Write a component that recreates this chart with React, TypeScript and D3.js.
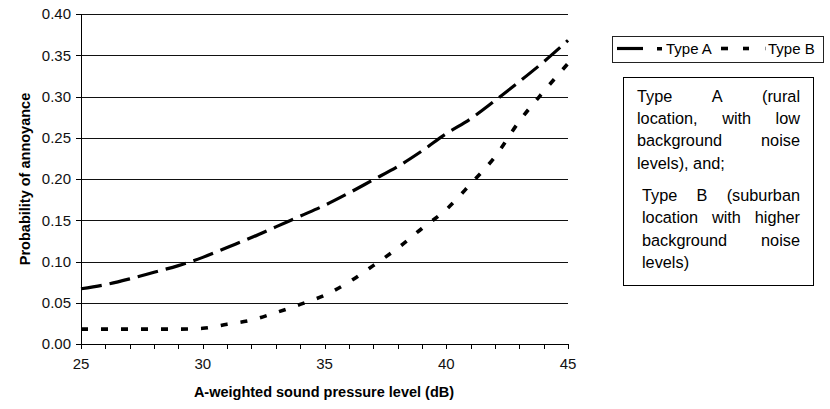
import React from 'react';
import * as d3 from 'd3';

const dB = [25, 26, 27, 28, 29, 30, 31, 32, 33, 34, 35, 36, 37, 38, 39, 40, 41, 42, 43, 44, 45];
const typeA = [0.067, 0.072, 0.079, 0.087, 0.095, 0.105, 0.117, 0.129, 0.142, 0.155, 0.168, 0.183, 0.199, 0.215, 0.234, 0.255, 0.273, 0.295, 0.318, 0.342, 0.368];
const typeB = [0.018, 0.018, 0.018, 0.018, 0.018, 0.019, 0.024, 0.029, 0.038, 0.048, 0.059, 0.075, 0.095, 0.116, 0.14, 0.163, 0.194, 0.227, 0.27, 0.306, 0.34];
const xTickLabels = [25, 30, 35, 40, 45];
const yTicks = [0, 0.05, 0.1, 0.15, 0.2, 0.25, 0.3, 0.35, 0.4];
const legendLabels = ['Type A', 'Type B'];
const noteParagraphs = [
  [['Type', 'A', '(rural'], ['location,', 'with', 'low'], ['background', 'noise'], ['levels), and;']],
  [['Type', 'B', '(suburban'], ['location', 'with', 'higher'], ['background', 'noise'], ['levels)']],
];

const FONT = "'Liberation Sans', Arial, Helvetica, sans-serif";

let ctx: CanvasRenderingContext2D | null = null;
function measure(t: string, size: number) {
  if (!ctx) ctx = document.createElement('canvas').getContext('2d');
  if (!ctx) return t.length * size * 0.5;
  ctx.font = `${size}px ${FONT}`;
  return ctx.measureText(t).width;
}

function JustifiedLine({ words, left, right, y, size, justify }: any) {
  if (!justify || words.length === 1) {
    return (
      <text x={left} y={y} fontSize={size} fontFamily={FONT} fill="#000">
        {words.join(' ')}
      </text>
    );
  }
  const widths = words.map((w: string) => measure(w, size));
  const total = widths.reduce((a: number, b: number) => a + b, 0);
  const gap = (right - left - total) / (words.length - 1);
  let x = left;
  return (
    <g>
      {words.map((w: string, i: number) => {
        const el = (
          <text key={i} x={x} y={y} fontSize={size} fontFamily={FONT} fill="#000">
            {w}
          </text>
        );
        x += widths[i] + gap;
        return el;
      })}
    </g>
  );
}

export default function App() {
  const W = 830, H = 409;
  const x = d3.scaleLinear().domain([25, 45]).range([81, 568]);
  const y = d3.scaleLinear().domain([0, 0.4]).range([344, 14]);
  const line = d3
    .line<number>()
    .x((_, i) => x(dB[i]))
    .y((d) => y(d))
    .curve(d3.curveMonotoneX);

  const noteSize = 16.3;
  const lineH = 22.3;
  const noteStarts = [101.7, 201];
  const noteLefts = [637, 642];

  return (
    <svg width={W} height={H} style={{ position: 'absolute', left: 0, top: 0 }} xmlns="http://www.w3.org/2000/svg">
      <rect x={0} y={0} width={W} height={H} fill="#fff" />
      {/* gridlines */}
      {yTicks.filter((t) => t > 0).map((t) => (
        <line key={t} x1={81} x2={568} y1={Math.round(y(t)) + 0.5} y2={Math.round(y(t)) + 0.5} stroke="#111" strokeWidth={1} />
      ))}
      {/* axes */}
      <line x1={81.5} x2={81.5} y1={14} y2={344} stroke="#000" strokeWidth={1} />
      <line x1={81} x2={568} y1={344.5} y2={344.5} stroke="#000" strokeWidth={1} />
      {yTicks.map((t) => (
        <g key={t}>
          <line x1={76} x2={81} y1={Math.round(y(t)) + 0.5} y2={Math.round(y(t)) + 0.5} stroke="#000" />
          <text x={71} y={y(t) + 5.3} textAnchor="end" fontSize={15} fontFamily={FONT} fill="#111">
            {t.toFixed(2)}
          </text>
        </g>
      ))}
      {dB.map((d) => (
        <line key={d} x1={Math.round(x(d)) + 0.5} x2={Math.round(x(d)) + 0.5} y1={344} y2={349} stroke="#000" />
      ))}
      {xTickLabels.map((d) => (
        <text key={d} x={x(d)} y={369} textAnchor="middle" fontSize={15} fontFamily={FONT} fill="#111">
          {d}
        </text>
      ))}
      <text x={324} y={397} textAnchor="middle" fontSize={14.5} fontWeight="bold" fontFamily={FONT} fill="#000">
        A-weighted sound pressure level (dB)
      </text>
      <text transform="translate(30,179) rotate(-90)" textAnchor="middle" fontSize={14.5} fontWeight="bold" fontFamily={FONT} fill="#000">
        Probability of annoyance
      </text>
      {/* series */}
      <path d={line(typeA) || ''} fill="none" stroke="#000" strokeWidth={3.2} strokeDasharray="21 8" />
      <path d={line(typeB) || ''} fill="none" stroke="#000" strokeWidth={3.6} strokeDasharray="7 13" />
      {/* legend */}
      <rect x={612.5} y={36.5} width={211} height={26} fill="#fff" stroke="#222" strokeWidth={1} />
      <line x1={617} x2={643} y1={48.5} y2={48.5} stroke="#000" strokeWidth={3.2} />
      <rect x={657} y={47} width={5} height={3.5} fill="#000" />
      <text x={666} y={54} fontSize={15} fontFamily={FONT} fill="#000">
        {legendLabels[0]}
      </text>
      <rect x={721} y={46.7} width={7} height={3.6} fill="#000" />
      <rect x={743} y={46.7} width={6} height={3.6} fill="#000" />
      <rect x={765} y={46.7} width={1} height={3.6} fill="#999" />
      <text x={768} y={54} fontSize={15} fontFamily={FONT} fill="#000">
        {legendLabels[1]}
      </text>
      {/* note box */}
      <rect x={623.5} y={77.5} width={190} height={208} fill="#fff" stroke="#000" strokeWidth={1} />
      {noteParagraphs.map((para, pi) =>
        para.map((words, li) => (
          <JustifiedLine
            key={`${pi}-${li}`}
            words={words}
            left={noteLefts[pi]}
            right={800}
            y={noteStarts[pi] + li * lineH}
            size={noteSize}
            justify={li < para.length - 1}
          />
        ))
      )}
    </svg>
  );
}
